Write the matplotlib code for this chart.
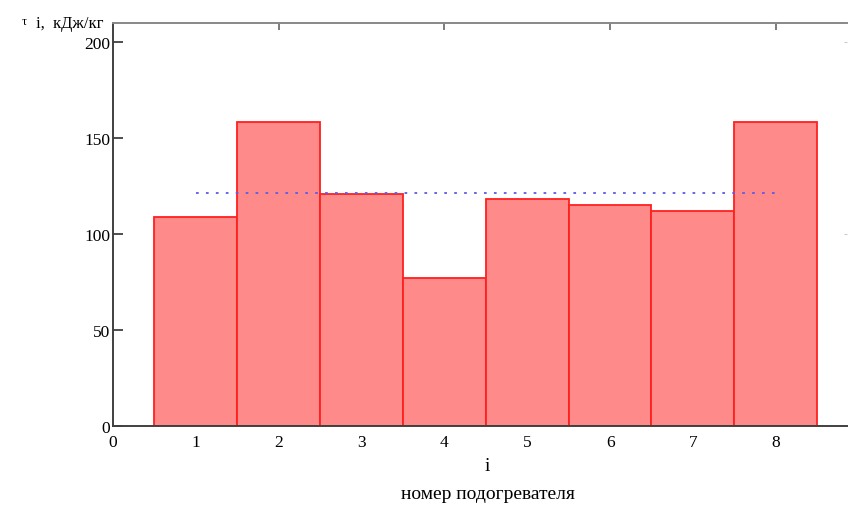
import matplotlib.pyplot as plt

heater = [1, 2, 3, 4, 5, 6, 7, 8]
tau = [109, 158.5, 121, 77, 118.5, 115, 112, 158.5]
tau_mean = [121.2, 121.2]
mean_span = [1, 8]

x_ticks = [0, 1, 2, 3, 4, 5, 6, 7, 8]
y_ticks = [0, 50, 100, 150, 200]

plt.rcParams['font.family'] = ['Liberation Serif', 'DejaVu Serif']

fig = plt.figure(figsize=(8.48, 5.06), dpi=100)
ax = fig.add_axes([0.1333, 0.156, 0.8655, 0.7966])

ax.bar(heater, tau, width=1.0, color='#ff8a8a', edgecolor='#ff2020', linewidth=1.3, zorder=2)
ax.plot(mean_span, tau_mean, color='#5c5ce6', linestyle=(0, (1.5, 4)), linewidth=1.3, zorder=3)

ax.set_xlim(0, 8.86)
ax.set_ylim(0, 210)
ax.set_xticks(x_ticks)
ax.set_yticks(y_ticks)
ax.tick_params(axis='x', length=0, pad=6, labelsize=12.5)
ax.tick_params(axis='y', direction='in', length=7, width=1.3, color='#404040', pad=2, labelsize=12.5)

for side in ['left', 'bottom']:
    ax.spines[side].set_color('#404040')
    ax.spines[side].set_linewidth(1.4)
ax.spines['top'].set_color('#888888')
ax.spines['top'].set_linewidth(1.4)
ax.spines['right'].set_visible(False)

top = ax.secondary_xaxis('top')
top.set_xticks([2, 4, 6, 8])
top.spines['top'].set_visible(False)
top.tick_params(direction='in', length=5, width=1.2, color='#666666', labeltop=False)
right = ax.secondary_yaxis('right')
right.set_yticks([100, 200])
right.spines['right'].set_visible(False)
right.tick_params(direction='in', length=2, width=0.8, color='#cccccc', labelright=False)

fig.text(0.575, 0.078, 'i', ha='center', va='center', fontsize=14)
fig.text(0.575, 0.022, 'номер подогревателя', ha='center', va='center', fontsize=14)
fig.text(0.025, 0.957, 'τ', ha='left', va='center', fontsize=9)
fig.text(0.042, 0.952, 'i,  кДж/кг', ha='left', va='center', fontsize=12)

fig.savefig('out.png', dpi=100)
